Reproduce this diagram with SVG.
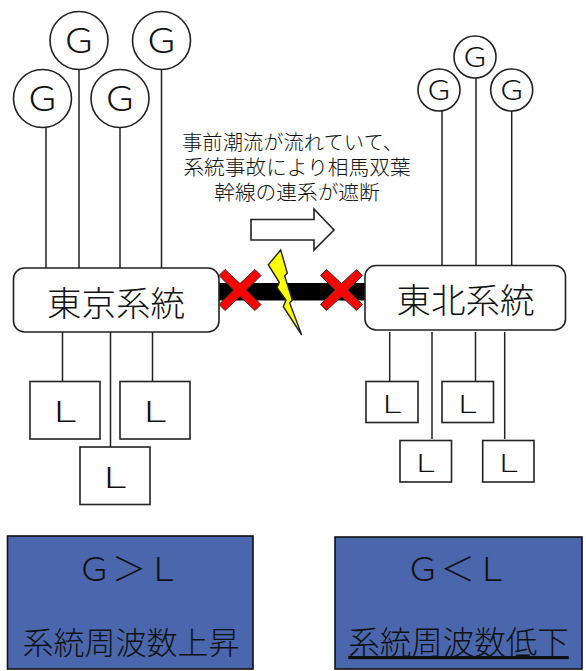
<svg xmlns="http://www.w3.org/2000/svg" width="586" height="671" viewBox="0 0 586 671">
<style>
text{font-family:"Noto Sans CJK JP","Noto Sans",sans-serif;font-weight:300;fill:#111;text-anchor:middle}
.c,.b{fill:#fff;stroke:#222;stroke-width:1.6}
.l{stroke:#222;stroke-width:1.5;fill:none}
.blue{fill:#4a67ad;stroke:#111;stroke-width:1.6}
.x{fill:#f00;stroke:#333;stroke-width:1}
.u{text-decoration:underline;text-decoration-thickness:1.2px;text-underline-offset:5px}
</style>
<defs>
<polygon id="cross" class="x" points="-15,-20.500 0,-6.500 15,-20.500 21,-14.500 6.500,0 21,14.500 15,20.500 0,6.500 -15,20.500 -21,14.500 -6.500,0 -21,-14.500"/>
</defs>
<g id="connectors">
<path class="l" d="M46 128V268M79 69V268M120 128V268M161.500 69V268M442 111V266M476 78V266M511.700 111V266"/>
<path class="l" d="M62.500 332V381M110.500 332V447M152.500 332V381M389.700 332V381M432 332V439M475.500 332V381M504.700 332V439"/>
<rect id="tie-line" x="218" y="283" width="148" height="17.500" fill="#000"/>
<use href="#cross" x="240" y="290"/>
<use href="#cross" x="341.500" y="290"/>
</g>
<g id="g1"><circle class="c" cx="42.500" cy="98.500" r="29"/><text x="42.500" y="111" font-size="34" textLength="37" lengthAdjust="spacingAndGlyphs">Ｇ</text></g>
<g id="g2"><circle class="c" cx="79" cy="40.500" r="29"/><text x="79" y="53" font-size="34" textLength="37" lengthAdjust="spacingAndGlyphs">Ｇ</text></g>
<g id="g3"><circle class="c" cx="120" cy="98.500" r="29"/><text x="120" y="111" font-size="34" textLength="37" lengthAdjust="spacingAndGlyphs">Ｇ</text></g>
<g id="g4"><circle class="c" cx="161.500" cy="40.500" r="29"/><text x="161.500" y="53" font-size="34" textLength="37" lengthAdjust="spacingAndGlyphs">Ｇ</text></g>
<g id="g5"><circle class="c" cx="439" cy="90" r="21"/><text x="439" y="100" font-size="27" textLength="30" lengthAdjust="spacingAndGlyphs">Ｇ</text></g>
<g id="g6"><circle class="c" cx="475" cy="57" r="21"/><text x="475" y="67" font-size="27" textLength="30" lengthAdjust="spacingAndGlyphs">Ｇ</text></g>
<g id="g7"><circle class="c" cx="511.700" cy="90" r="21"/><text x="511.700" y="100" font-size="27" textLength="30" lengthAdjust="spacingAndGlyphs">Ｇ</text></g>
<g id="tokyo"><rect class="b" x="13.500" y="268" width="205.500" height="64" rx="11"/><text x="116" y="316" font-size="34.500">東京系統</text></g>
<g id="tohoku"><rect class="b" x="365" y="265.500" width="200.500" height="64.500" rx="11"/><text x="465.500" y="313" font-size="34.500">東北系統</text></g>
<g id="l1"><rect class="b" x="30" y="381.500" width="70" height="57.500"/><text x="65" y="422" font-size="29" textLength="39" lengthAdjust="spacingAndGlyphs">Ｌ</text></g>
<g id="l2"><rect class="b" x="120" y="381.500" width="70" height="57.500"/><text x="155" y="422" font-size="29" textLength="39" lengthAdjust="spacingAndGlyphs">Ｌ</text></g>
<g id="l3"><rect class="b" x="80" y="447" width="70" height="57.500"/><text x="115" y="488" font-size="29" textLength="39" lengthAdjust="spacingAndGlyphs">Ｌ</text></g>
<g id="l4"><rect class="b" x="366" y="381.500" width="52" height="41"/><text x="392" y="413" font-size="24" textLength="32" lengthAdjust="spacingAndGlyphs">Ｌ</text></g>
<g id="l5"><rect class="b" x="442" y="381.500" width="51.500" height="41"/><text x="467.500" y="413" font-size="24" textLength="32" lengthAdjust="spacingAndGlyphs">Ｌ</text></g>
<g id="l6"><rect class="b" x="400" y="440.500" width="51.500" height="41.500"/><text x="425.500" y="472" font-size="24" textLength="32" lengthAdjust="spacingAndGlyphs">Ｌ</text></g>
<g id="l7"><rect class="b" x="482.700" y="440.500" width="51.300" height="41.500"/><text x="508.500" y="472" font-size="24" textLength="32" lengthAdjust="spacingAndGlyphs">Ｌ</text></g>
<text id="annotation"><tspan x="292.500" y="149.500" font-size="20.300">事前潮流が流れていて、</tspan><tspan x="297" y="175" font-size="20.700">系統事故により相馬双葉</tspan><tspan x="297" y="200" font-size="20.700">幹線の連系が遮断</tspan></text>
<polygon id="flow-arrow" fill="#fff" stroke="#222" stroke-width="1.600" points="251,219.500 314,219.500 314,209 334,230 314,250 314,240 251,240"/>
<polygon id="fault" fill="#ff0" stroke="#222" stroke-width="1.400" points="280.700,250 268.300,264.700 279.300,282.300 277,287.700 286,300 283.300,306.700 301.700,335 289.700,303 292.300,300 284.700,276 287.300,273"/>
<g id="result-left"><rect class="blue" x="7.500" y="536" width="245.500" height="133"/>
<text x="129" y="581" font-size="33" textLength="104" lengthAdjust="spacingAndGlyphs">Ｇ＞Ｌ</text>
<text x="131" y="654" font-size="31">系統周波数上昇</text></g>
<g id="result-right"><rect class="blue" x="335" y="537" width="247" height="132"/>
<text x="457.500" y="581" font-size="33" textLength="104" lengthAdjust="spacingAndGlyphs">Ｇ＜Ｌ</text>
<text class="u" x="458.500" y="654" font-size="31.500">系統周波数低下</text></g>
</svg>
